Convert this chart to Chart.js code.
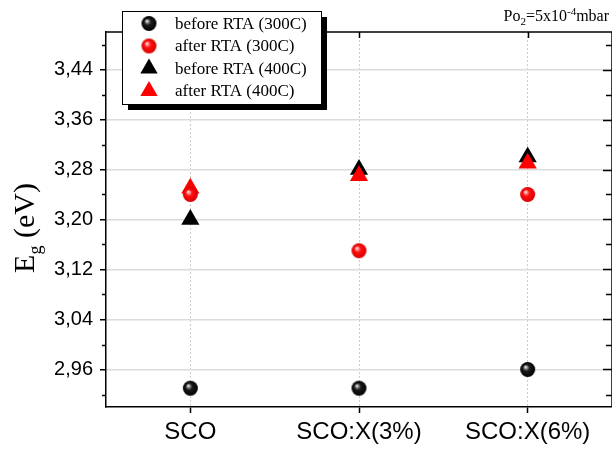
<!DOCTYPE html>
<html><head><meta charset="utf-8">
<script src="https://cdn.jsdelivr.net/npm/chart.js@4.4.0/dist/chart.umd.min.js"></script>
<style>html,body{margin:0;padding:0;background:#fff}#wrap{width:612px;height:450px}</style>
</head><body><div id="wrap"><canvas id="c" width="612" height="450"></canvas></div>
<script>
// Band gap values per sample and annealing condition
const categories = ['SCO', 'SCO:X(3%)', 'SCO:X(6%)'];
const before300 = [2.93, 2.93, 2.96];
const after300 = [3.24, 3.15, 3.24];
const before400 = [3.20, 3.28, 3.30];
const after400 = [3.25, 3.27, 3.29];
const seriesNames = ['before RTA (300C)', 'after RTA (300C)', 'before RTA (400C)', 'after RTA (400C)'];
const yTickValues = [2.96, 3.04, 3.12, 3.20, 3.28, 3.36, 3.44];
const yMinorValues = [2.92, 3.00, 3.08, 3.16, 3.24, 3.32, 3.40, 3.48];

// Shaded ball marker
function sphere(light, base, dark, r) {
  const s = r * 2 + 2;
  const cv = document.createElement('canvas');
  cv.width = s; cv.height = s;
  const g = cv.getContext('2d');
  const c = s / 2;
  const grad = g.createRadialGradient(c - r * 0.3, c - r * 0.35, r * 0.05, c, c, r);
  grad.addColorStop(0, light);
  grad.addColorStop(0.4, base);
  grad.addColorStop(1, dark);
  g.fillStyle = grad;
  g.beginPath(); g.arc(c, c, r, 0, Math.PI * 2); g.fill();
  return cv;
}
const blackBall = sphere('#e8e8e8', '#1c1c1c', '#000000', 7.5);
const redBall = sphere('#ffe0e0', '#ff1010', '#d80000', 7.5);

const serif = '"Liberation Serif", "Times New Roman", serif';
const sans = '"Liberation Sans", Arial, sans-serif';

const frame = {
  id: 'frame',
  afterDraw(chart) {
    const { ctx, chartArea: a, scales: { x, y } } = chart;
    ctx.save();
    ctx.strokeStyle = '#000';
    ctx.lineWidth = 1.5;
    ctx.beginPath();
    ctx.moveTo(a.left, a.top); ctx.lineTo(a.right, a.top);
    ctx.moveTo(a.right, a.top); ctx.lineTo(a.right, a.bottom);
    ctx.stroke();
    ctx.beginPath();
    yTickValues.forEach(v => {
      const py = Math.round(y.getPixelForValue(v)) + 0.5;
      ctx.moveTo(a.right, py); ctx.lineTo(a.right - 9, py);
    });
    yMinorValues.forEach(v => {
      const py = Math.round(y.getPixelForValue(v)) + 0.5;
      ctx.moveTo(a.right, py); ctx.lineTo(a.right - 6, py);
      ctx.moveTo(a.left, py); ctx.lineTo(a.left - 4, py);
    });
    categories.forEach((c, i) => {
      const px = Math.round(x.getPixelForValue(i)) + 0.5;
      ctx.moveTo(px, a.top); ctx.lineTo(px, a.top + 6);
    });
    ctx.stroke();

    // y-axis title with subscript
    ctx.fillStyle = '#000';
    ctx.translate(24, 228);
    ctx.rotate(-Math.PI / 2);
    ctx.textBaseline = 'alphabetic';
    const big = '30px ' + serif, small = '18px ' + serif;
    ctx.font = big; const wE = ctx.measureText('E').width;
    ctx.font = small; const wg = ctx.measureText('g').width;
    ctx.font = big; const wR = ctx.measureText(' (eV)').width;
    let sx = -(wE + wg + wR) / 2;
    ctx.font = big; ctx.fillText('E', sx, 10); sx += wE;
    ctx.font = small; ctx.fillText('g', sx, 17); sx += wg;
    ctx.font = big; ctx.fillText(' (eV)', sx, 10);
    ctx.restore();

    // oxygen pressure note
    ctx.save();
    ctx.fillStyle = '#000';
    ctx.textBaseline = 'alphabetic';
    const parts = [['Po', 16, 0], ['2', 11, 4], ['=5x10', 16, 0], ['-4', 11, -6], ['mbar', 16, 0]];
    let tw = 0;
    parts.forEach(p => { ctx.font = p[1] + 'px ' + serif; tw += ctx.measureText(p[0]).width; });
    let tx = 609 - tw;
    parts.forEach(p => {
      ctx.font = p[1] + 'px ' + serif;
      ctx.fillText(p[0], tx, 21 + p[2]);
      tx += ctx.measureText(p[0]).width;
    });
    ctx.restore();

    // legend box with drop shadow
    ctx.save();
    const bx = 122, by = 11, bw = 199, bh = 93;
    ctx.fillStyle = '#000';
    ctx.fillRect(bx + 6, by + 6, bw, bh);
    ctx.fillStyle = '#fff';
    ctx.fillRect(bx, by, bw, bh);
    ctx.strokeStyle = '#000';
    ctx.lineWidth = 1;
    ctx.strokeRect(bx + 0.5, by + 0.5, bw, bh);
    ctx.font = '17px ' + serif;
    ctx.textBaseline = 'middle';
    chart.data.datasets.forEach((ds, i) => {
      const ry = 23.5 + i * 22.5;
      const mx = 149;
      if (ds.pointStyle === 'triangle') {
        const r = 10;
        ctx.fillStyle = ds.backgroundColor;
        ctx.beginPath();
        ctx.moveTo(mx, ry - r);
        ctx.lineTo(mx + r * Math.sqrt(3) / 2, ry + r / 2);
        ctx.lineTo(mx - r * Math.sqrt(3) / 2, ry + r / 2);
        ctx.closePath(); ctx.fill();
      } else {
        const im = ds.pointStyle;
        ctx.drawImage(im, mx - im.width / 2, ry - im.height / 2);
      }
      ctx.fillStyle = '#000';
      ctx.fillText(ds.label, 175, ry + 1);
    });
    ctx.restore();
  }
};

new Chart(document.getElementById('c'), {
  type: 'line',
  data: {
    labels: categories,
    datasets: [
      { label: seriesNames[0], data: before300, pointStyle: blackBall, order: 1 },
      { label: seriesNames[1], data: after300, pointStyle: redBall, order: 0 },
      { label: seriesNames[2], data: before400, pointStyle: 'triangle', pointRadius: 10.5, backgroundColor: '#000', order: 3 },
      { label: seriesNames[3], data: after400, pointStyle: 'triangle', pointRadius: 10.5, backgroundColor: '#ff0000', order: 2 }
    ].map(d => Object.assign({ showLine: false, pointBorderWidth: 0, borderColor: 'rgba(0,0,0,0)', pointBackgroundColor: d.backgroundColor || '#000', pointRadius: d.pointRadius || 7.5 }, d))
  },
  options: {
    responsive: false,
    animation: false,
    events: [],
    layout: { autoPadding: false, padding: { top: 32, right: -2, left: 0, bottom: 0 } },
    plugins: { legend: { display: false }, tooltip: { enabled: false } },
    scales: {
      x: {
        type: 'category',
        offset: true,
        afterFit: s => { s.height = 43; s.paddingLeft = 0; s.paddingRight = 0; },
        grid: { offset: false, color: '#cccccc', lineWidth: 1, tickColor: '#000', tickLength: 6, tickWidth: 1.5 },
        border: { color: '#000', width: 1.5, dash: [2, 2] },
        ticks: { color: '#000', font: { family: sans, size: 24 }, padding: 5, maxRotation: 0, autoSkip: false }
      },
      y: {
        min: 2.90,
        max: 3.50,
        afterFit: s => { s.width = 106; s.paddingTop = 0; s.paddingBottom = 0; },
        afterBuildTicks: s => { s.ticks = yTickValues.map(v => ({ value: v })); },
        grid: { color: '#dcdcdc', lineWidth: 1.5, tickColor: '#000', tickLength: 6, tickWidth: 1.5 },
        border: { color: '#000', width: 1.5 },
        ticks: { color: '#000', font: { family: sans, size: 20 }, padding: 7, callback: v => v.toFixed(2).replace('.', ',') }
      }
    }
  },
  plugins: [frame]
});
</script>
</body></html>
